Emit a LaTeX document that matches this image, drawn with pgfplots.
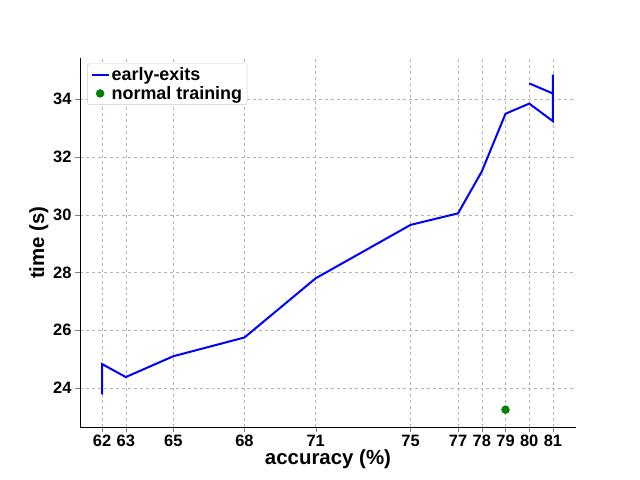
\documentclass[border=0pt]{standalone}
\usepackage{pgfplots}
\pgfplotsset{compat=1.18}
\usepackage{fontspec}
\setmainfont{Liberation Sans}
\begin{document}
\begin{tikzpicture}
\path[use as bounding box] (-80bp,-53bp) rectangle (560bp,427bp);
\begin{axis}[
  at={(0,0)}, anchor=south west, scale only axis,
  width=496bp, height=369bp,
  xmin=61.07, xmax=81.97, ymin=22.65, ymax=35.43,
  axis x line*=bottom, axis y line*=left,
  tick align=outside, major tick length=5bp,
  xtick={62,63,65,68,71,75,77,78,79,80,81},
  ytick={24,26,28,30,32,34},
  grid=major, grid style={dashed, gray!60},
  tick label style={font=\bfseries\fontsize{16.5}{19}\selectfont},
  /pgf/number format/assume math mode=true,
  xlabel={\bfseries accuracy (\%)}, ylabel={\bfseries time (s)},
  label style={font=\bfseries\fontsize{20.5}{24}\selectfont},
  xlabel style={yshift=4pt}, ylabel style={yshift=-2pt},
  legend style={font=\bfseries\fontsize{18}{21}\selectfont, draw=gray!40, rounded corners=2pt, at={(0.015,0.985)}, anchor=north west},
  legend cell align=left,
]
\addplot[color=blue, line width=2bp, mark=none] coordinates {
(62,23.78) (62,24.83) (63,24.38) (65,25.1) (68,25.75) (71,27.8) (75,29.65) (77,30.05) (78,31.5) (79,33.5) (80,33.85) (81,33.24) (81,34.85) (81,34.2) (80,34.55)};
\addlegendentry{early-exits}
\addplot[only marks, mark=*, mark size=4bp, color=green!50!black, fill=green!50!black] coordinates {(79,23.25)};
\addlegendentry{normal training}
\end{axis}
\end{tikzpicture}
\end{document}
